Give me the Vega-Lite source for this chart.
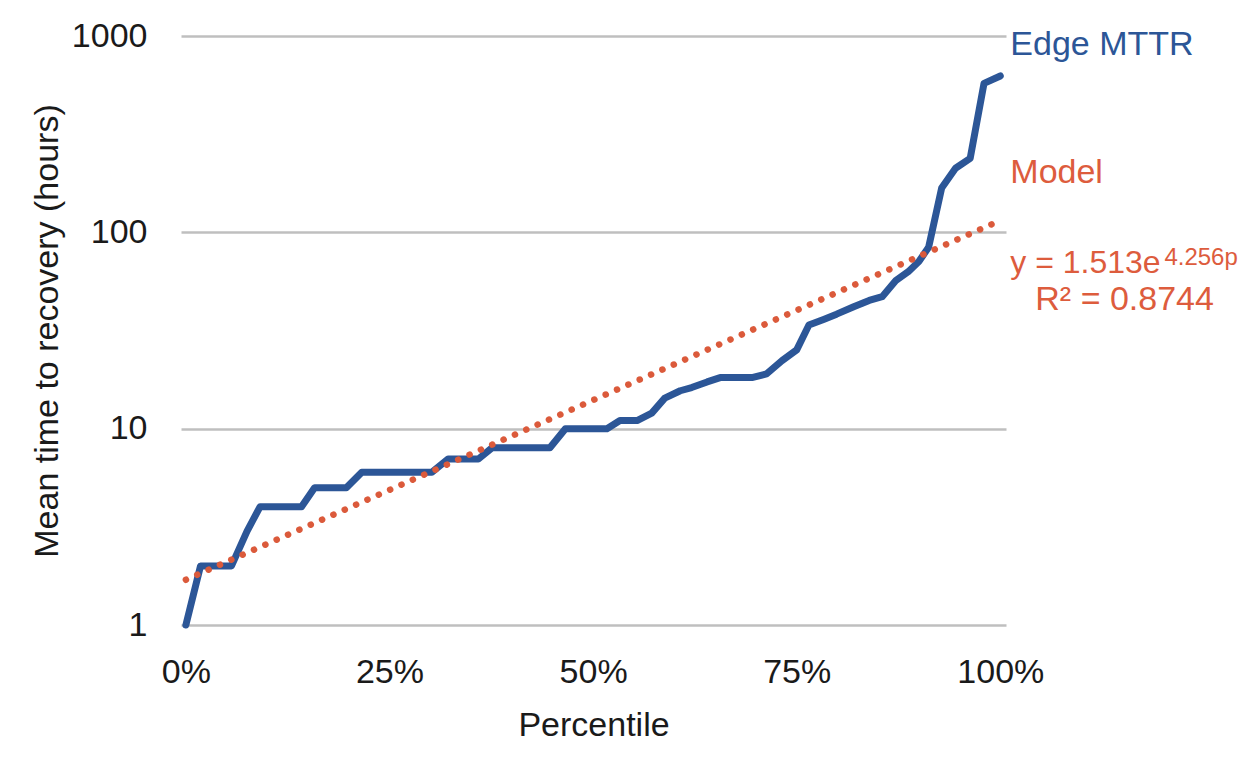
{
  "$schema": "https://vega.github.io/schema/vega-lite/v6.json",
  "autosize": {"type": "none"},
  "width": 825,
  "height": 589,
  "padding": {"left": 181, "top": 36, "right": 243, "bottom": 136},
  "background": "#ffffff",
  "config": {
    "view": {"stroke": null},
    "font": "Liberation Sans",
    "axis": {"labelFont": "Liberation Sans", "titleFont": "Liberation Sans", "labelColor": "#1a1a1a", "titleColor": "#1a1a1a", "titleFontWeight": "normal"}
  },
  "layer": [
    {
      "data": {"values": [
        {"p": 0, "v": 1}, {"p": 0.018, "v": 2}, {"p": 0.056, "v": 2}, {"p": 0.075, "v": 3},
        {"p": 0.091, "v": 4}, {"p": 0.142, "v": 4}, {"p": 0.158, "v": 5}, {"p": 0.197, "v": 5},
        {"p": 0.216, "v": 6}, {"p": 0.302, "v": 6}, {"p": 0.322, "v": 7}, {"p": 0.359, "v": 7},
        {"p": 0.376, "v": 8}, {"p": 0.447, "v": 8}, {"p": 0.466, "v": 10}, {"p": 0.517, "v": 10},
        {"p": 0.533, "v": 11}, {"p": 0.554, "v": 11}, {"p": 0.572, "v": 12}, {"p": 0.588, "v": 14.3},
        {"p": 0.607, "v": 15.6}, {"p": 0.621, "v": 16.2}, {"p": 0.64, "v": 17.3}, {"p": 0.656, "v": 18.2},
        {"p": 0.695, "v": 18.2}, {"p": 0.713, "v": 19}, {"p": 0.732, "v": 22.2}, {"p": 0.75, "v": 25.2},
        {"p": 0.765, "v": 33.7}, {"p": 0.783, "v": 36}, {"p": 0.799, "v": 38.3}, {"p": 0.82, "v": 41.8},
        {"p": 0.839, "v": 45}, {"p": 0.855, "v": 47}, {"p": 0.872, "v": 57}, {"p": 0.887, "v": 63},
        {"p": 0.9, "v": 71}, {"p": 0.912, "v": 84}, {"p": 0.928, "v": 168}, {"p": 0.945, "v": 212},
        {"p": 0.963, "v": 238}, {"p": 0.98, "v": 574}, {"p": 1.0, "v": 626}
      ]},
      "mark": {"type": "line", "color": "#2C5697", "strokeWidth": 7, "strokeCap": "round", "strokeJoin": "round"},
      "encoding": {
        "x": {"field": "p", "type": "quantitative",
          "scale": {"domain": [-0.006, 1.007], "nice": false, "zero": false},
          "axis": {"values": [0, 0.25, 0.5, 0.75, 1], "format": ".0%", "grid": false, "domain": false, "ticks": false, "tickSize": 0,
            "labelFontSize": 34, "labelPadding": 57, "labelBaseline": "alphabetic",
            "title": "Percentile", "titleFontSize": 34, "titleBaseline": "alphabetic", "titleY": 110}},
        "y": {"field": "v", "type": "quantitative",
          "scale": {"type": "log", "domain": [1, 1000], "nice": false},
          "axis": {"values": [1, 10, 100, 1000], "format": "d", "grid": true, "gridColor": "#bfbfbf", "gridWidth": 2.5,
            "domain": false, "ticks": false, "tickSize": 0, "labelFontSize": 34, "labelPadding": 34,
            "title": "Mean time to recovery (hours)", "titleFontSize": 34, "titleBaseline": "alphabetic", "titleX": -124}}
      }
    },
    {
      "data": {"values": [{"p": 0, "v": 1.7}, {"p": 0.994, "v": 112}]},
      "mark": {"type": "line", "color": "#DB5A3B", "strokeWidth": 6.5, "strokeCap": "round", "strokeDash": [0.1, 12.3]},
      "encoding": {
        "x": {"field": "p", "type": "quantitative"},
        "y": {"field": "v", "type": "quantitative"}
      }
    },
    {
      "data": {"values": [{"label": "Edge MTTR", "p": 1.0123, "v": 800}]},
      "mark": {"type": "text", "align": "left", "baseline": "alphabetic", "fontSize": 34, "color": "#2C5697", "font": "Liberation Sans"},
      "encoding": {
        "x": {"field": "p", "type": "quantitative"},
        "y": {"field": "v", "type": "quantitative"},
        "text": {"field": "label"}
      }
    },
    {
      "data": {"values": [
        {"label": "Model", "p": 1.0123, "v": 178},
        {"label": "R² = 0.8744", "p": 1.043, "v": 40.2}
      ]},
      "mark": {"type": "text", "align": "left", "baseline": "alphabetic", "color": "#DD5C3D", "font": "Liberation Sans", "fontSize": 34},
      "encoding": {
        "x": {"field": "p", "type": "quantitative"},
        "y": {"field": "v", "type": "quantitative"},
        "text": {"field": "label"}
      }
    },
    {
      "data": {"values": [{"label": "y = 1.513e", "p": 1.0123, "v": 62.1}]},
      "mark": {"type": "text", "align": "left", "baseline": "alphabetic", "color": "#DD5C3D", "font": "Liberation Sans", "fontSize": 32},
      "encoding": {
        "x": {"field": "p", "type": "quantitative"},
        "y": {"field": "v", "type": "quantitative"},
        "text": {"field": "label"}
      }
    },
    {
      "data": {"values": [{"label": "4.256p", "p": 1.2015, "v": 68}]},
      "mark": {"type": "text", "align": "left", "baseline": "alphabetic", "color": "#DD5C3D", "font": "Liberation Sans", "fontSize": 24},
      "encoding": {
        "x": {"field": "p", "type": "quantitative"},
        "y": {"field": "v", "type": "quantitative"},
        "text": {"field": "label"}
      }
    }
  ]
}
